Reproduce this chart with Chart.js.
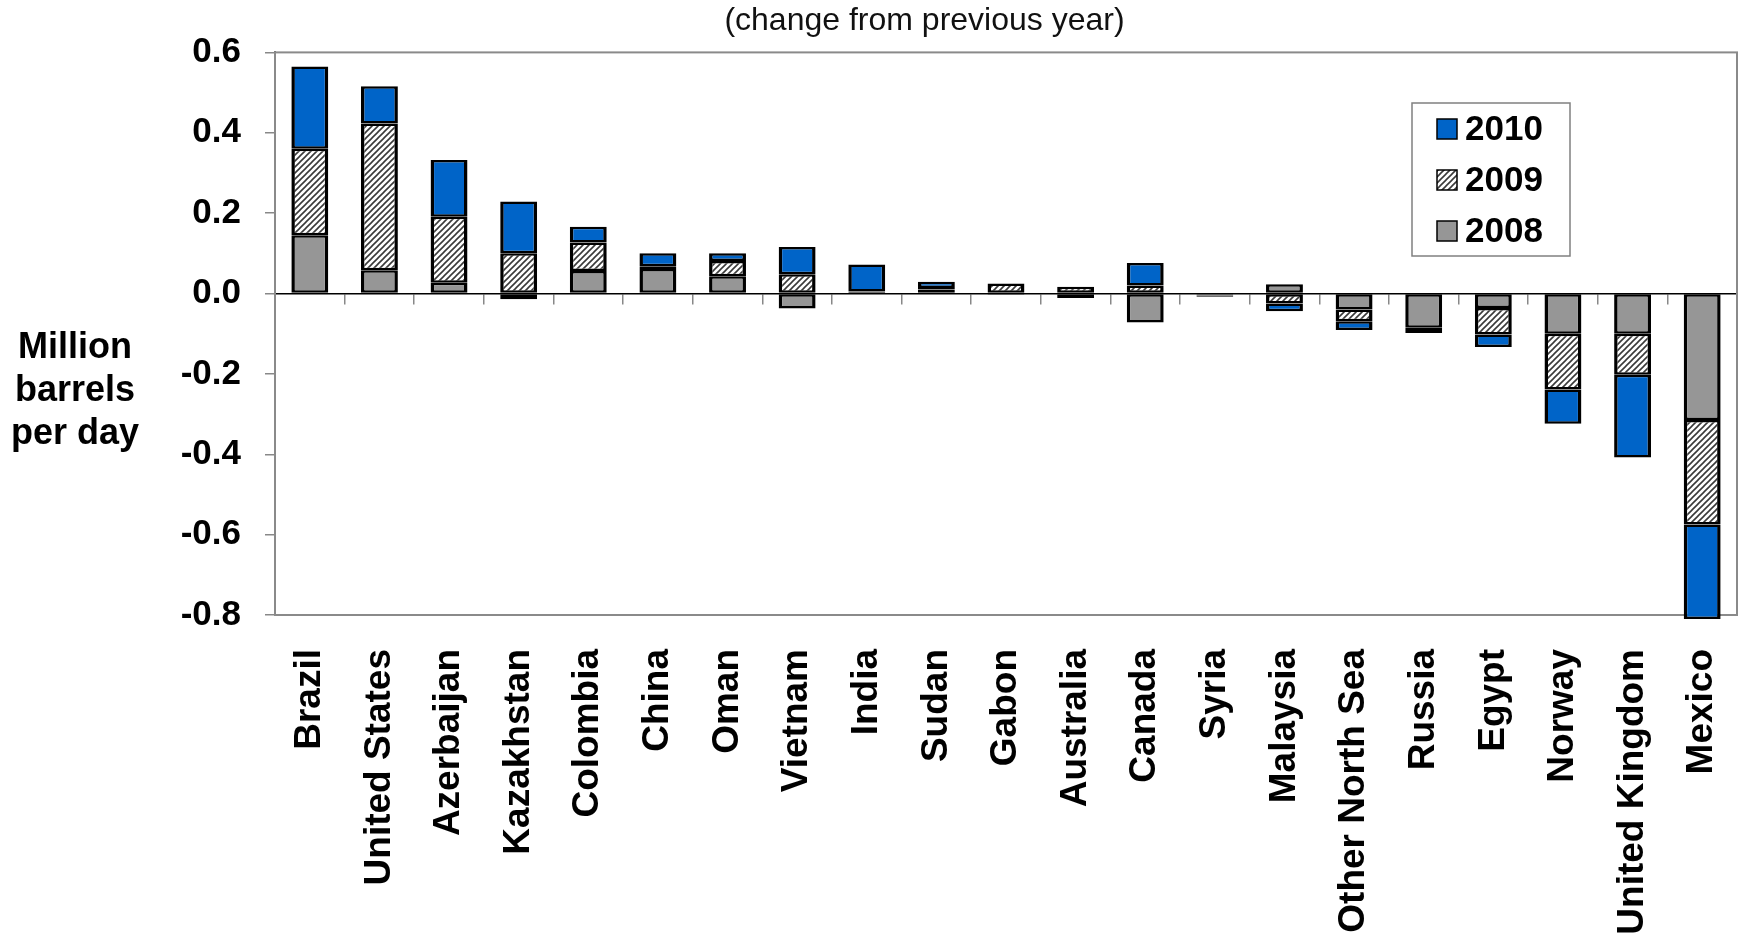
<!DOCTYPE html>
<html>
<head>
<meta charset="utf-8">
<script src="https://cdn.jsdelivr.net/npm/chart.js@4.4.1/dist/chart.umd.min.js"></script>
<style>
  html, body { margin:0; padding:0; background:#fff; }
  #wrap { width:1742px; height:934px; }
</style>
</head>
<body>
<div id="wrap"><canvas id="chart" width="1742" height="934"></canvas></div>
<script>
// data (million barrels per day, change from previous year)
const countries = ['Brazil','United States','Azerbaijan','Kazakhstan','Colombia','China','Oman','Vietnam','India','Sudan','Gabon','Australia','Canada','Syria','Malaysia','Other North Sea','Russia','Egypt','Norway','United Kingdom','Mexico'];
const y2008 = [0.145, 0.058, 0.027, -0.014, 0.056, 0.061, 0.043, -0.037, 0.002, 0.010, -0.003, 0.002, -0.072, -0.003, 0.023, -0.040, -0.085, -0.036, -0.100, -0.100, -0.315];
const y2009 = [0.215, 0.365, 0.164, 0.100, 0.071, 0.007, 0.038, 0.048, 0.003, 0.004, 0.025, 0.015, 0.020, -0.002, -0.025, -0.029, -0.008, -0.066, -0.139, -0.102, -0.260];
const y2010 = [0.205, 0.093, 0.141, 0.129, 0.039, 0.032, 0.019, 0.068, 0.067, 0.015, 0.000, -0.011, 0.056, -0.003, -0.019, -0.022, -0.005, -0.031, -0.085, -0.206, -0.235];
const yTicks = [-0.8, -0.6, -0.4, -0.2, 0.0, 0.2, 0.4, 0.6];
const titleText = '(change from previous year)';
const yTitle = ['Million', 'barrels', 'per day'];

const FONT = '"Liberation Sans", Arial, sans-serif';

// hatched fill for 2009
function hatch(){
  const c = document.createElement('canvas');
  c.width = 6; c.height = 6;
  const g = c.getContext('2d');
  g.fillStyle = '#fff'; g.fillRect(0,0,6,6);
  g.strokeStyle = '#3a3a3a'; g.lineWidth = 1.6;
  g.beginPath();
  g.moveTo(-1,7); g.lineTo(7,-1);
  g.moveTo(-1,1); g.lineTo(1,-1);
  g.moveTo(5,7); g.lineTo(7,5);
  g.stroke();
  return g.createPattern(c, 'repeat');
}

const ctx = document.getElementById('chart').getContext('2d');
const hatchFill = hatch();

const frame = {
  id:'frame',
  beforeDatasetsDraw(chart){
    const a = chart.chartArea, g = chart.ctx;
    g.save();
    g.strokeStyle = '#8a8a8a'; g.lineWidth = 2;
    g.strokeRect(a.left, a.top, a.right-a.left, a.bottom-a.top);
    g.restore();
  }
};

const sideText = {
  id:'sideText',
  afterDraw(chart){
    const g = chart.ctx;
    g.save();
    g.fillStyle = '#000';
    g.font = 'bold 36px ' + FONT;
    g.textAlign = 'center'; g.textBaseline = 'middle';
    yTitle.forEach((t,i)=> g.fillText(t, 75, 348 + i*43));
    g.restore();
  }
};

const boxLegend = {
  id:'boxLegend',
  afterDraw(chart){
    const g = chart.ctx;
    g.save();
    g.fillStyle = '#fff';
    g.fillRect(1412, 103, 158, 153);
    g.strokeStyle = '#808080'; g.lineWidth = 1.5;
    g.strokeRect(1412, 103, 158, 153);
    const order = [2,1,0];
    const rows = [129, 180, 231];
    g.font = 'bold 35px ' + FONT;
    g.textBaseline = 'middle';
    order.forEach((di,i)=>{
      const ds = chart.data.datasets[di];
      const y = rows[i];
      g.fillStyle = ds.backgroundColor;
      g.fillRect(1437, y-10, 20, 20);
      g.strokeStyle = '#000'; g.lineWidth = 1.5;
      g.strokeRect(1437, y-10, 20, 20);
      g.fillStyle = '#000';
      g.fillText(ds.label, 1465, y+1);
    });
    g.restore();
  }
};

const common = { borderColor:'#000', borderWidth:{left:3.5,right:3.5,top:2.5,bottom:2.5}, borderSkipped:false, barPercentage:0.53, categoryPercentage:1, clip:false };

new Chart(ctx, {
  type:'bar',
  data:{
    labels: countries,
    datasets:[
      Object.assign({label:'2008', data:y2008, backgroundColor:'#969696'}, common),
      Object.assign({label:'2009', data:y2009, backgroundColor:hatchFill}, common),
      Object.assign({label:'2010', data:y2010, backgroundColor:'#0064C8'}, common)
    ]
  },
  options:{
    responsive:false,
    animation:false,
    layout:{ padding:{left:112, right:5, top:0, bottom:0} },
    plugins:{
      legend:{ display:false },
      tooltip:{ enabled:false },
      title:{ display:true, text:titleText, color:'#111', font:{family:FONT, size:32, weight:'normal'}, padding:{top:2, bottom:12} }
    },
    scales:{
      x:{
        stacked:true,
        grid:{ display:false },
        border:{ display:false },
        afterFit(s){ s.height = 319; s.paddingLeft = 0; s.paddingRight = 0; },
        ticks:{ color:'#000', font:{family:FONT, size:37, weight:'bold'}, minRotation:90, maxRotation:90, padding:26, autoSkip:false }
      },
      x0:{
        type:'category',
        labels: countries,
        position:{ y:0 },
        grid:{ drawOnChartArea:false, offset:true, tickLength:10, color:'#888', lineWidth:1.5 },
        border:{ color:'#000', width:1.5 },
        ticks:{ display:false }
      },
      y:{
        stacked:true,
        min:-0.8, max:0.6,
        afterBuildTicks(s){ s.ticks = yTicks.map(v=>({value:v})); },
        afterFit(s){ s.width = 163; },
        grid:{ drawOnChartArea:false, tickLength:10, color:'#888', lineWidth:1.5 },
        border:{ color:'#6e6e6e', width:2 },
        ticks:{ color:'#000', font:{family:FONT, size:35, weight:'bold'}, padding:24, callback:v=>v.toFixed(1) }
      }
    }
  },
  plugins:[frame, sideText, boxLegend]
});
</script>
</body>
</html>
